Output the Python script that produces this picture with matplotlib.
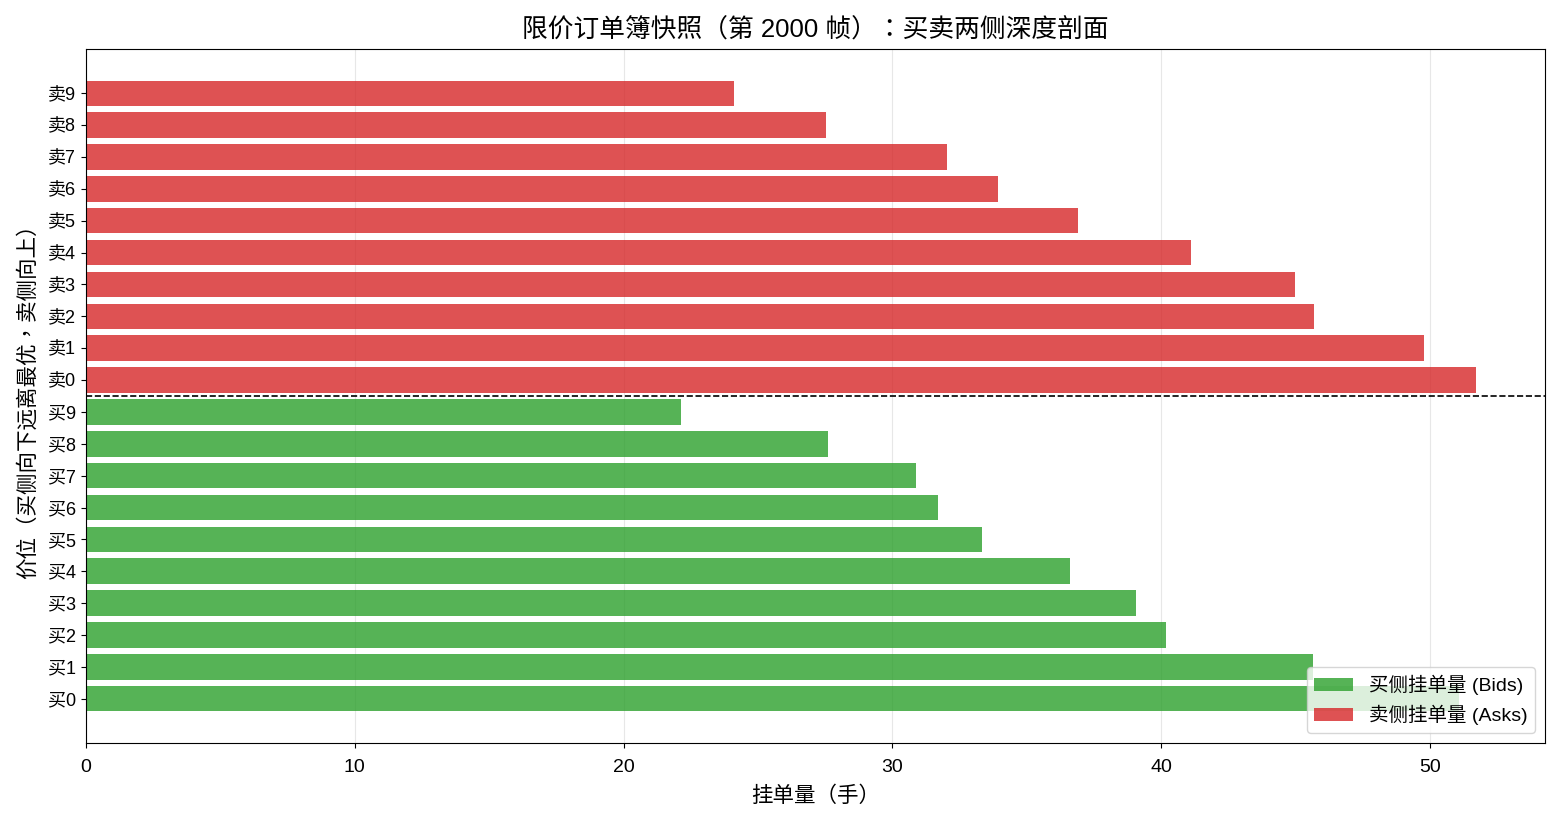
import matplotlib
matplotlib.use('Agg')
import matplotlib.pyplot as plt
import numpy as np

plt.rcParams['font.family'] = ['Liberation Sans', 'Noto Sans CJK TC', 'DejaVu Sans']
plt.rcParams['axes.unicode_minus'] = False

# depth levels, level 0 = best price
bid_labels = ['买%d' % i for i in range(10)]
ask_labels = ['卖%d' % i for i in range(10)]
bid_sizes = [51.1, 45.65, 40.2, 39.05, 36.6, 33.35, 31.7, 30.9, 27.6, 22.15]
ask_sizes = [51.7, 49.8, 45.7, 45.0, 41.1, 36.9, 33.95, 32.05, 27.55, 24.1]

fig, ax = plt.subplots(figsize=(15.6, 8.26), dpi=100)

y_bid = np.arange(len(bid_sizes))
y_ask = np.arange(len(ask_sizes)) + len(bid_sizes)

ax.barh(y_bid, bid_sizes, height=0.8, color='tab:green', alpha=0.8, label='买侧挂单量 (Bids)')
ax.barh(y_ask, ask_sizes, height=0.8, color='tab:red', alpha=0.8, label='卖侧挂单量 (Asks)')
ax.axhline(len(bid_sizes) - 0.5, color='black', linestyle='--', linewidth=1.2)

ax.set_yticks(np.concatenate([y_bid, y_ask]))
ax.set_yticklabels(bid_labels + ask_labels)
ax.tick_params(axis='y', labelsize=13)
ax.tick_params(axis='x', labelsize=14, pad=8)
ax.set_xlabel('挂单量（手）', fontsize=15.5, labelpad=7)
ax.set_ylabel('价位（买侧向下远离最优，卖侧向上）', fontsize=15.5, labelpad=7)
ax.set_title('限价订单簿快照（第 2000 帧）：买卖两侧深度剖面', fontsize=18.5, pad=8)
ax.grid(axis='x', alpha=0.3)
ax.set_axisbelow(True)
ax.legend(loc='lower right', fontsize=14)

plt.subplots_adjust(left=0.0551, right=0.9904, top=0.9407, bottom=0.1005)
plt.savefig('out.png', dpi=100)
